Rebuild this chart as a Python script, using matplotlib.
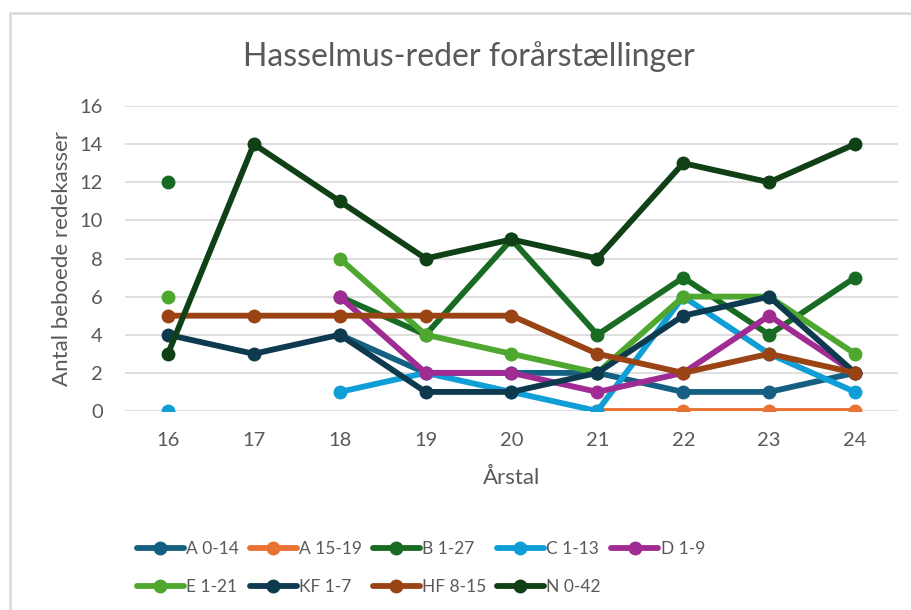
import numpy as np
import matplotlib
matplotlib.use("Agg")
import matplotlib.pyplot as plt
from matplotlib.patches import Rectangle

plt.rcParams['font.family'] = ['Lato', 'DejaVu Sans']

# data (NaN = no count that year)
years = ['16', '17', '18', '19', '20', '21', '22', '23', '24']
nan = np.nan
a_0_14 = [nan, nan, 4, 2, 2, 2, 1, 1, 2]
a_15_19 = [nan, nan, nan, nan, nan, 0, 0, 0, 0]
b_1_27 = [12, nan, 6, 4, 9, 4, 7, 4, 7]
c_1_13 = [0, nan, 1, 2, 1, 0, 6, 3, 1]
d_1_9 = [nan, nan, 6, 2, 2, 1, 2, 5, 2]
e_1_21 = [6, nan, 8, 4, 3, 2, 6, 6, 3]
kf_1_7 = [4, 3, 4, 1, 1, 2, 5, 6, 2]
hf_8_15 = [5, 5, 5, 5, 5, 3, 2, 3, 2]
n_0_42 = [3, 14, 11, 8, 9, 8, 13, 12, 14]

series = [
    ('A 0-14', a_0_14, '#156082'),
    ('A 15-19', a_15_19, '#E97132'),
    ('B 1-27', b_1_27, '#196B24'),
    ('C 1-13', c_1_13, '#0F9ED5'),
    ('D 1-9', d_1_9, '#A02B93'),
    ('E 1-21', e_1_21, '#4EA72E'),
    ('KF 1-7', kf_1_7, '#0D3A4E'),
    ('HF 8-15', hf_8_15, '#9A4416'),
    ('N 0-42', n_0_42, '#0F4016'),
]

fig = plt.figure(figsize=(9.12, 6.10), dpi=100)
fig.patches.append(Rectangle((10 / 912, -0.1), 1.0, 1 - 13 / 610 + 0.1,
                             transform=fig.transFigure, fill=False,
                             edgecolor='#D9D9D9', linewidth=1.8))

ax = fig.add_axes([125 / 912, 1 - 411 / 610, 773 / 912, 305 / 610])
x = np.arange(len(years))

handles = []
for name, vals, col in series:
    h, = ax.plot(x, vals, color=col, linewidth=4.2, marker='o',
                 markersize=9, solid_capstyle='round', label=name)
    handles.append(h)

ax.set_xlim(-0.5, len(years) - 0.5)
ax.set_ylim(0, 16)
ax.set_yticks(np.arange(0, 17, 2))
ax.set_xticks(x)
ax.set_xticklabels(years)
ax.grid(axis='y', color='#D9D9D9', linewidth=1.2)
ax.set_axisbelow(True)
for s in ax.spines.values():
    s.set_visible(False)
ax.tick_params(length=0, labelsize=14.5, colors='#595959')
ax.tick_params(axis='y', pad=16)
ax.tick_params(axis='x', pad=15)

ax.set_ylabel('Antal beboede redekasser', fontsize=16, color='#595959')
ax.yaxis.set_label_coords(-0.069, 0.5)
ax.set_xlabel('Årstal', fontsize=16, color='#595959')
ax.xaxis.set_label_coords(0.5, -0.188)

fig.text(469 / 912, 1 - 57 / 610, 'Hasselmus-reder forårstællinger',
         ha='center', va='center', fontsize=23, color='#595959')

# legend in row-major order, 5 per row
order = [0, 5, 1, 6, 2, 7, 3, 8, 4]
fig.legend([handles[i] for i in order], [series[i][0] for i in order],
           ncol=5, loc='center', bbox_to_anchor=(421 / 912, 1 - 568 / 610),
           frameon=False, fontsize=12.5, labelcolor='#595959',
           handlelength=2.7, handletextpad=0.15, columnspacing=0.6,
           labelspacing=1.3)

fig.savefig('out.png', dpi=100)
